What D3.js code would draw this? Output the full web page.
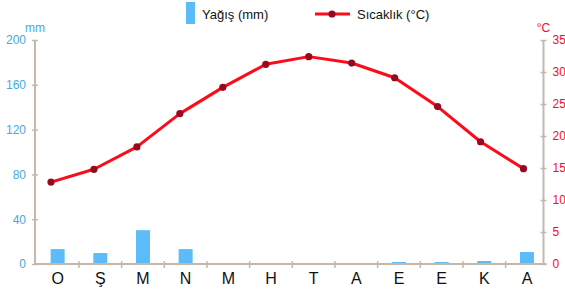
<!DOCTYPE html>
<html><head><meta charset="utf-8">
<script src="https://cdn.jsdelivr.net/npm/d3@7"></script>
<style>body{margin:0;background:#fff}svg{display:block;font-family:"Liberation Sans",Arial,sans-serif}</style>
</head><body>
<svg id="c" width="565" height="291"></svg>
<script>
const months = ["O","Ş","M","N","M","H","T","A","E","E","K","A"];
const rain = [13.3, 9.8, 30.2, 13.3, 0, 0, 0, 0, 1.8, 1.8, 2.7, 10.7];
const temp = [12.8, 14.8, 18.3, 23.5, 27.6, 31.2, 32.4, 31.4, 29.1, 24.6, 19.1, 14.9];
const rainTicks = [0, 40, 80, 120, 160, 200];
const tempTicks = [0, 5, 10, 15, 20, 25, 30, 35];
const legendLabels = ["Yağış (mm)", "Sıcaklık (°C)"];
const unitLabels = ["mm", "°C"];

const svg = d3.select("#c");
const axisColor = "#c4b8ad", blue = "#5cbcf8", blueText = "#45a9e0", red = "#ff0a1a", dark = "#960a20";
const L = 35, R = 543.5, T = 40, B = 264;
const x = d3.scaleBand().domain(d3.range(12)).range([36.3, 548.3]);
const xl = d3.scalePoint().domain(d3.range(12)).range([51, 523.5]);
const yR = d3.scaleLinear().domain([0, 200]).range([B, T]);
const yT = d3.scaleLinear().domain([0, 35]).range([B, T]);

// bars
svg.append("g").selectAll("rect").data(rain).join("rect")
  .attr("x", (d, i) => x(i) + x.bandwidth() / 2 - 7)
  .attr("width", 14)
  .attr("y", d => yR(d))
  .attr("height", d => B - yR(d))
  .attr("fill", blue);

// left axis
const gl = svg.append("g").attr("transform", `translate(${L},0)`)
  .call(d3.axisLeft(yR).tickValues(rainTicks).tickSize(3).tickPadding(6));
gl.select(".domain").attr("stroke", axisColor).attr("stroke-width", 2).attr("d", `M0,${B}V${T}`);
gl.selectAll(".tick line").attr("stroke", axisColor).attr("stroke-width", 1.5).attr("x1", -3).attr("x2", 3);
gl.selectAll(".tick text").attr("fill", blueText).attr("font-size", 12).style("font-family", "Liberation Sans, Arial, sans-serif");

// right axis
const gr = svg.append("g").attr("transform", `translate(${R},0)`)
  .call(d3.axisRight(yT).tickValues(tempTicks).tickSize(3).tickPadding(6));
gr.select(".domain").attr("stroke", axisColor).attr("stroke-width", 2).attr("d", `M0,${B}V${T}`);
gr.selectAll(".tick line").attr("stroke", axisColor).attr("stroke-width", 1.5).attr("x1", -3).attr("x2", 3);
gr.selectAll(".tick text").attr("fill", red).attr("font-size", 12).style("font-family", "Liberation Sans, Arial, sans-serif");

// x axis
const gx = svg.append("g").attr("transform", `translate(0,${B})`)
  .call(d3.axisBottom(x).tickSize(0).tickPadding(9).tickFormat(i => months[i]));
gx.select(".domain").remove();
gx.selectAll(".tick text").attr("fill", "#111").attr("font-size", 16).style("font-family", "Liberation Sans, Arial, sans-serif");
svg.append("line").attr("x1", L).attr("x2", R + 3).attr("y1", B).attr("y2", B)
  .attr("stroke", axisColor).attr("stroke-width", 2);
svg.append("g").selectAll("line").data(d3.range(1, 12)).join("line")
  .attr("x1", i => x(i)).attr("x2", i => x(i)).attr("y1", B - 3).attr("y2", B + 4)
  .attr("stroke", axisColor).attr("stroke-width", 1.5);

// temperature line
svg.append("path").datum(temp)
  .attr("d", d3.line().x((d, i) => xl(i)).y(d => yT(d)))
  .attr("fill", "none").attr("stroke", red).attr("stroke-width", 3).attr("stroke-linejoin", "round");
svg.append("g").selectAll("circle").data(temp).join("circle")
  .attr("cx", (d, i) => xl(i)).attr("cy", d => yT(d)).attr("r", 3.6).attr("fill", dark);

// unit labels
svg.append("text").attr("x", L).attr("y", 32).attr("text-anchor", "middle")
  .attr("fill", blueText).attr("font-size", 12).text(unitLabels[0]);
svg.append("text").attr("x", R).attr("y", 32).attr("text-anchor", "middle")
  .attr("fill", red).attr("font-size", 12).text(unitLabels[1]);

// legend
svg.append("rect").attr("x", 186).attr("y", 2).attr("width", 9).attr("height", 22).attr("fill", blue);
svg.append("text").attr("x", 202).attr("y", 19).attr("font-size", 13).attr("fill", "#111").text(legendLabels[0]);
svg.append("line").attr("x1", 315).attr("x2", 350).attr("y1", 14).attr("y2", 14).attr("stroke", red).attr("stroke-width", 3);
svg.append("circle").attr("cx", 332).attr("cy", 14).attr("r", 3.6).attr("fill", dark);
svg.append("text").attr("x", 357).attr("y", 19).attr("font-size", 13).attr("fill", "#111").text(legendLabels[1]);
</script>
</body></html>
